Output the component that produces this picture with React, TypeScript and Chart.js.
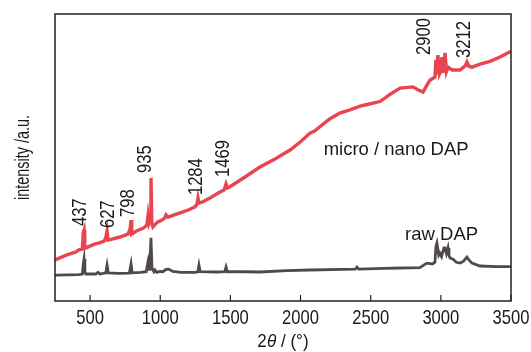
import React, { useEffect, useRef } from "react";
import { Chart, registerables } from "chart.js";

Chart.register(...registerables);

// ---- data ----
const xTickValues = [500, 1000, 1500, 2000, 2500, 3000, 3500];

// micro / nano DAP spectrum: [2θ, intensity]
const microNanoDAP: [number, number][] = [
  [250, 14.3], [330, 16.0], [400, 17.1], [420, 17.8], [445, 18.1], [452, 24], [457, 24.7], [462, 19.5],
  [470, 18.5], [535, 19.9], [560, 20.2], [600, 20.9], [612, 22], [621, 24.4], [628, 21.2], [650, 21.5],
  [713, 22.3], [770, 23.3], [785, 25], [792, 28.2], [797, 23.3], [830, 24.4], [880, 25.4], [905, 26.5],
  [913, 29.8], [920, 27], [928, 28], [934, 42.9], [940, 27.2], [948, 25.8], [980, 27.5], [1000, 27.9],
  [1030, 28.8], [1041, 30.0], [1055, 29.2], [1100, 30.0], [1141, 30.7], [1200, 31.7], [1248, 32.8],
  [1262, 33.8], [1269, 35.9], [1276, 34.1], [1300, 34.5], [1355, 35.9], [1426, 38.0], [1455, 38.7],
  [1469, 40.8], [1480, 39.4], [1497, 39.8], [1604, 43.2], [1711, 46.7], [1818, 49.5], [1925, 52.6],
  [2000, 55.5], [2067, 58.5], [2100, 59.2], [2140, 60.8], [2210, 63.5], [2280, 65.5], [2352, 66.6],
  [2420, 67.8], [2459, 68.3], [2566, 69.5], [2638, 72.0], [2709, 74.2], [2801, 74.6], [2840, 73.5],
  [2873, 72.8], [2910, 76], [2923, 77.0], [2958, 78.0], [2965, 84], [2972, 79], [2979, 85.7], [2990, 79],
  [3000, 80], [3008, 85.0], [3015, 79.5], [3030, 86.4], [3040, 80], [3051, 81.5], [3080, 80.5],
  [3136, 80.5], [3175, 82], [3186, 83.3], [3200, 81.8], [3222, 81.5], [3279, 82.5], [3350, 83.5],
  [3422, 85.0], [3493, 86.8], [3500, 87],
];

// raw DAP spectrum: [2θ, intensity]
const rawDAP: [number, number][] = [
  [250, 9.0], [350, 9.1], [420, 9.2], [445, 9.4], [452, 13], [457, 14.6], [463, 10], [470, 9.4],
  [540, 9.4], [556, 10.0], [570, 9.4], [612, 9.8], [621, 12.5], [630, 9.8], [700, 9.6], [780, 9.7],
  [792, 12.9], [800, 9.8], [860, 10], [900, 10.2], [913, 13.6], [920, 11], [927, 14], [934, 22.0],
  [941, 11.5], [955, 10.2], [963, 10.8], [975, 10], [998, 10.3], [1020, 10.2], [1041, 11.0], [1060, 11.1],
  [1090, 10.3], [1150, 10.0], [1250, 10.0], [1268, 10.2], [1276, 12.5], [1285, 10.2], [1400, 10.1],
  [1460, 10.2], [1469, 11.8], [1478, 10.2], [1600, 10.2], [1711, 10.1], [1900, 10.6], [2067, 10.8],
  [2300, 11], [2390, 11.1], [2402, 11.8], [2415, 11.1], [2600, 11.4], [2709, 11.5], [2850, 11.6],
  [2900, 13.2], [2940, 12.9], [2958, 13.5], [2965, 19], [2972, 20.2], [2985, 16], [2993, 16.7],
  [3005, 15.5], [3022, 18.5], [3030, 18.5], [3040, 16.5], [3051, 18.5], [3058, 16], [3065, 15.0],
  [3087, 14.6], [3110, 13.5], [3136, 13.2], [3160, 13.8], [3186, 15.3], [3200, 14.3], [3222, 13.2],
  [3279, 12.2], [3400, 12.0], [3500, 12.0],
];

// peak annotations
const peakLabels = ["437", "627", "798", "935", "1284", "1469", "2900", "3212"];
const peakLabelX = [428, 621, 770, 891, 1248, 1447, 2873, 3158];
const peakLabelY = [26.1, 25.4, 29.3, 44.6, 36.9, 43.2, 85.7, 84.7];

// series name labels
const seriesNames = ["micro / nano DAP", "raw DAP"];
const seriesLabelX = [2165, 2745];
const seriesLabelY = [50.9, 21.3];

const xTitleParts = ["2", "θ", " / (°)"];
const yTitle = "intensity /a.u.";

const RED = "#e8454e";
const GRAY = "#514949";
const TEXT = "#1a1a1a";
const FONT = "'Liberation Sans', Arial, sans-serif";

function condensedText(ctx: any, text: string, x: number, y: number, rot: number, sx: number) {
  ctx.save();
  ctx.translate(x, y);
  ctx.rotate(rot);
  ctx.scale(sx, 1);
  ctx.fillText(text, 0, 0);
  ctx.restore();
}

const overlayPlugin = {
  id: "overlay",
  afterDatasetsDraw(chart: any) {
    const { ctx, chartArea: a, scales } = chart;
    const x = scales.x;
    const y = scales.y;
    ctx.save();
    // frame
    ctx.strokeStyle = "#222";
    ctx.lineWidth = 1.5;
    ctx.strokeRect(a.left, a.top, a.right - a.left, a.bottom - a.top);
    // inward ticks + tick labels
    ctx.lineWidth = 1.2;
    ctx.fillStyle = TEXT;
    ctx.font = `21px ${FONT}`;
    ctx.textAlign = "center";
    ctx.textBaseline = "alphabetic";
    xTickValues.forEach((v) => {
      const px = x.getPixelForValue(v);
      ctx.beginPath();
      ctx.moveTo(px, a.bottom);
      ctx.lineTo(px, a.bottom - 6);
      ctx.stroke();
      condensedText(ctx, String(v), px, a.bottom + 23, 0, 0.79);
    });
    // peak labels (rotated)
    ctx.font = `20px ${FONT}`;
    ctx.textAlign = "left";
    ctx.textBaseline = "middle";
    peakLabels.forEach((t, i) => {
      const px = x.getPixelForValue(peakLabelX[i]);
      const py = y.getPixelForValue(peakLabelY[i]);
      ctx.save();
      ctx.translate(px + 1, py);
      ctx.rotate(-Math.PI / 2);
      ctx.scale(0.83, 1);
      ctx.fillText(t, 0, 0);
      ctx.restore();
    });
    // series labels
    ctx.font = `18.5px ${FONT}`;
    ctx.textBaseline = "alphabetic";
    seriesNames.forEach((t, i) => {
      ctx.fillText(t, x.getPixelForValue(seriesLabelX[i]), y.getPixelForValue(seriesLabelY[i]));
    });
    // y title
    ctx.font = `19.5px ${FONT}`;
    ctx.textAlign = "center";
    ctx.textBaseline = "middle";
    condensedText(ctx, yTitle, 24, (a.top + a.bottom) / 2, -Math.PI / 2, 0.74);
    // x title with italic theta
    const fonts = [`19px ${FONT}`, `italic 19px ${FONT}`, `19px ${FONT}`];
    const sx = 0.9;
    ctx.textAlign = "left";
    ctx.textBaseline = "alphabetic";
    let total = 0;
    xTitleParts.forEach((s, i) => {
      ctx.font = fonts[i];
      total += ctx.measureText(s).width * sx;
    });
    let cx = (a.left + a.right) / 2 - total / 2;
    const by = a.bottom + 46;
    xTitleParts.forEach((s, i) => {
      ctx.font = fonts[i];
      condensedText(ctx, s, cx, by, 0, sx);
      cx += ctx.measureText(s).width * sx;
    });
    ctx.restore();
  },
};

export default function App() {
  const ref = useRef<HTMLCanvasElement | null>(null);
  useEffect(() => {
    if (!ref.current) return;
    const chart = new Chart(ref.current, {
      type: "scatter",
      data: {
        datasets: [
          {
            label: seriesNames[0],
            data: microNanoDAP.map(([a, b]) => ({ x: a, y: b })),
            showLine: true,
            borderColor: RED,
            backgroundColor: RED,
            borderWidth: 3.4,
            pointRadius: 0,
            tension: 0,
          },
          {
            label: seriesNames[1],
            data: rawDAP.map(([a, b]) => ({ x: a, y: b })),
            showLine: true,
            borderColor: GRAY,
            backgroundColor: GRAY,
            borderWidth: 2.8,
            pointRadius: 0,
            tension: 0,
          },
        ],
      },
      options: {
        animation: false,
        responsive: false,
        maintainAspectRatio: false,
        layout: { padding: { top: 14, right: 20, left: 0, bottom: 0 } },
        plugins: { legend: { display: false }, tooltip: { enabled: false } },
        scales: {
          x: {
            type: "linear",
            min: 250,
            max: 3500,
            afterBuildTicks: (s: any) => {
              s.ticks = xTickValues.map((v) => ({ value: v }));
            },
            afterFit: (s: any) => {
              s.height = 51;
            },
            ticks: { display: false },
            grid: { display: false, drawTicks: false },
            border: { display: false },
          },
          y: {
            min: 0,
            max: 100,
            afterFit: (s: any) => {
              s.width = 55;
            },
            ticks: { display: false },
            grid: { display: false, drawTicks: false },
            border: { display: false },
          },
        },
      },
      plugins: [overlayPlugin],
    });
    return () => chart.destroy();
  }, []);
  return (
    <div style={{ position: "fixed", left: 0, top: 0, width: 531, height: 352, background: "#fff" }}>
      <canvas ref={ref} width={531} height={352} />
    </div>
  );
}
